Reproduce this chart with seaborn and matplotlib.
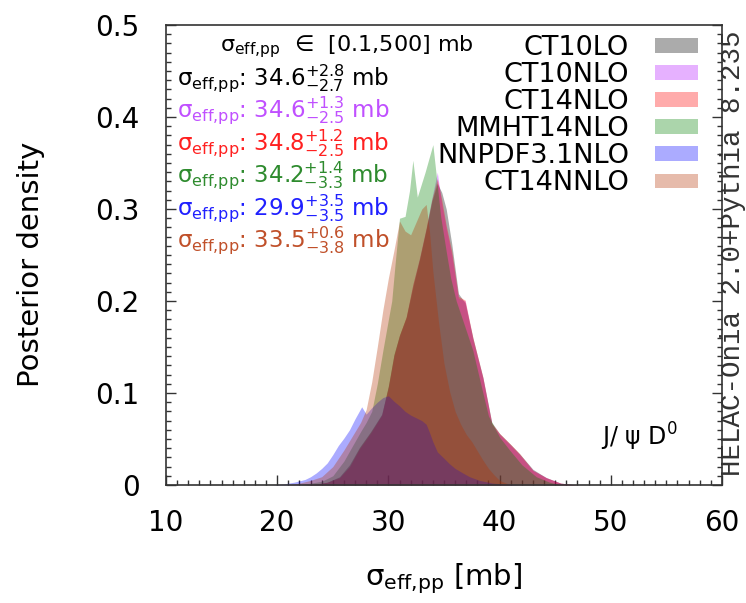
import numpy as np
import pandas as pd
import matplotlib
matplotlib.use("Agg")
import matplotlib.pyplot as plt
import seaborn as sns
from matplotlib.patches import Patch
from matplotlib.ticker import MultipleLocator

# ---------------- data ----------------
pdf_names = ["CT10LO", "CT10NLO", "CT14NLO", "MMHT14NLO", "NNPDF3.1NLO", "CT14NNLO"]

x_ct10lo = [22.5, 23.5, 24.5, 25.6, 26.5, 27.4, 28.4, 29.4, 30.0, 30.5, 31.0, 31.6, 32.2, 32.8, 33.4, 33.9,
            34.4, 34.8, 35.2, 35.7, 36.3, 36.9, 37.6, 38.5, 39.3, 40.0, 41.0, 41.8, 43.0, 44.2, 45.5, 47.0]
y_ct10lo = [0.0, 0.001, 0.003, 0.009, 0.022, 0.041, 0.058, 0.077, 0.108, 0.142, 0.163, 0.182, 0.215, 0.245, 0.278, 0.308,
            0.328, 0.318, 0.300, 0.262, 0.208, 0.198, 0.160, 0.117, 0.068, 0.056, 0.044, 0.034, 0.017, 0.008, 0.002, 0.0]

x_ct10nlo = x_ct10lo
y_ct10nlo = [0.0, 0.001, 0.003, 0.008, 0.020, 0.039, 0.056, 0.076, 0.106, 0.140, 0.162, 0.182, 0.218, 0.247, 0.280, 0.311,
             0.340, 0.305, 0.279, 0.250, 0.203, 0.200, 0.158, 0.116, 0.066, 0.055, 0.043, 0.033, 0.016, 0.008, 0.002, 0.0]

x_ct14nlo = x_ct10lo
y_ct14nlo = [0.0, 0.001, 0.003, 0.008, 0.020, 0.040, 0.057, 0.076, 0.107, 0.141, 0.163, 0.183, 0.218, 0.246, 0.279, 0.310,
             0.333, 0.310, 0.282, 0.254, 0.205, 0.201, 0.160, 0.117, 0.067, 0.056, 0.044, 0.034, 0.016, 0.008, 0.002, 0.0]

x_mmht = [22.0, 23.0, 24.0, 25.0, 26.0, 26.7, 27.5, 28.0, 28.5, 29.0, 29.5, 30.0, 30.3, 30.6, 31.0, 31.5, 31.9, 32.2,
          32.6, 33.3, 34.0, 34.3, 34.7, 35.2, 35.6, 36.1, 36.8, 37.6, 38.3, 39.0, 40.0, 40.9, 42.0, 43.3, 44.5, 45.5]
y_mmht = [0.0, 0.002, 0.004, 0.010, 0.026, 0.041, 0.058, 0.068, 0.080, 0.110, 0.146, 0.180, 0.200, 0.240, 0.290, 0.292,
          0.320, 0.353, 0.313, 0.340, 0.370, 0.337, 0.292, 0.254, 0.225, 0.200, 0.175, 0.146, 0.110, 0.075, 0.052,
          0.038, 0.022, 0.009, 0.003, 0.0]

x_nnpdf = [19.5, 20.5, 21.5, 22.5, 23.0, 23.5, 24.0, 24.5, 25.0, 25.5, 26.0, 26.5, 27.0, 27.6, 28.0, 28.5, 29.0, 29.5,
           30.0, 30.5, 31.0, 31.5, 32.0, 32.5, 33.0, 33.4, 33.7, 34.0, 34.4, 35.0, 35.5, 36.0, 36.7, 37.3, 38.2, 39.4,
           40.5, 42.0]
y_nnpdf = [0.0, 0.001, 0.003, 0.006, 0.009, 0.013, 0.018, 0.024, 0.033, 0.043, 0.051, 0.060, 0.072, 0.085, 0.077, 0.084,
           0.090, 0.095, 0.097, 0.091, 0.086, 0.080, 0.076, 0.073, 0.070, 0.066, 0.057, 0.047, 0.036, 0.029, 0.023,
           0.018, 0.013, 0.009, 0.005, 0.002, 0.001, 0.0]

x_ct14nnlo = [21.0, 22.0, 23.0, 24.0, 25.0, 26.0, 27.0, 27.5, 28.0, 28.5, 29.0, 29.5, 30.0, 30.5, 31.0, 31.5, 32.0,
              32.5, 33.0, 33.4, 33.7, 34.0, 34.5, 35.0, 35.5, 36.0, 36.5, 37.0, 37.5, 38.0, 38.5, 39.0, 39.5, 40.0, 41.0]
y_ct14nnlo = [0.0, 0.002, 0.005, 0.009, 0.020, 0.038, 0.058, 0.068, 0.082, 0.112, 0.150, 0.190, 0.225, 0.255, 0.287,
              0.276, 0.272, 0.286, 0.300, 0.305, 0.275, 0.232, 0.178, 0.132, 0.102, 0.080, 0.066, 0.055, 0.047, 0.037,
              0.027, 0.018, 0.011, 0.005, 0.0]

central = ["34.6", "34.6", "34.8", "34.2", "29.9", "33.5"]
err_up = ["+2.8", "+1.3", "+1.2", "+1.4", "+3.5", "+0.6"]
err_dn = ["-2.7", "-2.5", "-2.5", "-3.3", "-3.5", "-3.8"]

fill_colors = ["#000000", "#b412ff", "#ff0000", "#008000", "#0000ff", "#b43300"]
text_colors = ["#000000", "#c050ff", "#ff2020", "#2e8b2e", "#2020ff", "#c0502a"]

frames = []
for name, xs, ys in zip(pdf_names,
                        [x_ct10lo, x_ct10nlo, x_ct14nlo, x_mmht, x_nnpdf, x_ct14nnlo],
                        [y_ct10lo, y_ct10nlo, y_ct14nlo, y_mmht, y_nnpdf, y_ct14nnlo]):
    frames.append(pd.DataFrame({"sigma": xs, "density": ys, "pdf": name}))
df = pd.concat(frames, ignore_index=True)

# ---------------- style ----------------
sns.set_theme(style="ticks")
plt.rcParams["font.family"] = ["DejaVu Sans"]
plt.rcParams["mathtext.fontset"] = "dejavusans"
plt.rcParams["text.color"] = "black"
plt.rcParams["axes.labelcolor"] = "black"
plt.rcParams["xtick.labelcolor"] = "black"
plt.rcParams["ytick.labelcolor"] = "black"

fig = plt.figure(figsize=(7.46, 6.03), dpi=100)
ax = fig.add_axes([0.2225, 0.1957, 0.9678 - 0.2225, 0.9585 - 0.1957])

alpha = 0.33
palette = dict(zip(pdf_names, fill_colors))
sns.lineplot(data=df, x="sigma", y="density", hue="pdf", palette=palette,
             linewidth=0, legend=False, ax=ax, sort=False)
for name in pdf_names:
    sub = df[df["pdf"] == name]
    ax.fill_between(sub["sigma"], 0, sub["density"], color=palette[name],
                    alpha=alpha, linewidth=0)

ax.set_xlim(10, 60)
ax.set_ylim(0, 0.5)
ax.xaxis.set_major_locator(MultipleLocator(10))
ax.xaxis.set_minor_locator(MultipleLocator(1))
ax.yaxis.set_major_locator(MultipleLocator(0.1))
ax.yaxis.set_minor_locator(MultipleLocator(0.01))
ax.set_yticks([0, 0.1, 0.2, 0.3, 0.4, 0.5])
ax.set_yticklabels(["0", "0.1", "0.2", "0.3", "0.4", "0.5"])

ax.tick_params(which="both", direction="in", top=False, right=True, color="#333333",
               labelsize=20, width=1.0, labelcolor="black")
ax.tick_params(which="major", length=7)
ax.tick_params(which="minor", length=3.5)
ax.tick_params(axis="x", which="major", pad=17)
ax.tick_params(axis="y", which="major", pad=19)
for sp in ax.spines.values():
    sp.set_color("#333333")
    sp.set_linewidth(1.2)

ax.set_ylabel("Posterior density", fontsize=21, color="black")
ax.yaxis.set_label_coords(-0.243, 0.48)
ax.yaxis.label.set_verticalalignment("center")
ax.set_xlabel(r"σ$_{\mathrm{eff{,}pp}}$ [mb]", fontsize=21, color="black")
ax.xaxis.set_label_coords(0.5, -0.203)
ax.xaxis.label.set_verticalalignment("center")

# header and values (positions in pixels of the 603-px-high figure -> axes fraction)
ax_h = 460.0
ax.text(0.326, (485 - 47) / ax_h, r"σ$_{\mathrm{eff{,}pp}}$  ∈  [0.1,500] mb", transform=ax.transAxes,
        ha="center", va="center", fontsize=16, color="black")
y0 = (485 - 85) / ax_h
dy = 32.4 / ax_h
for i in range(len(pdf_names)):
    s = (r"σ$_{\mathrm{eff{,}pp}}$: $\mathrm{%s}^{%s}_{%s}$ mb"
         % (central[i], err_up[i], err_dn[i]))
    ax.text(0.02, y0 - i * dy, s, transform=ax.transAxes, ha="left", va="baseline",
            fontsize=16.5, color=text_colors[i])

# legend
handles = [Patch(facecolor=c, alpha=alpha, edgecolor="none") for c in fill_colors]
leg = ax.legend(handles, pdf_names, loc="upper right", bbox_to_anchor=(0.957, (485 - 35) / ax_h),
                frameon=False, markerfirst=False, fontsize=19.5, borderpad=0,
                handlelength=1.6, handleheight=0.45, handletextpad=0.95,
                labelspacing=0.04, borderaxespad=0, labelcolor="black")

ax.text(0.921, (485 - 437) / ax_h, r"J/ ψ D$^{0}$", transform=ax.transAxes, ha="right", va="center",
        fontsize=17, color="black")

ax.text(1.0198, (485 - 253) / ax_h, "HELAC-Onia 2.0+Pythia 8.235", transform=ax.transAxes,
        rotation=90, ha="center", va="center", fontsize=19.8, family="Liberation Mono",
        color="#333333")

fig.savefig("out.png", dpi=100)
